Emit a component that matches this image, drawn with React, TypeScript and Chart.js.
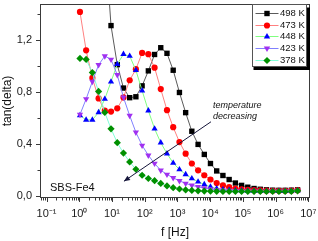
import React, { useEffect, useRef } from 'react';
import { Chart, registerables } from 'chart.js';

Chart.register(...registerables);

// Frequencies [Hz]
const frequencies = [
  1.05, 1.62, 2.51, 3.89, 6.03, 9.33, 14.5, 22.4, 34.7, 53.7, 83.2, 129,
  200, 309, 479, 741, 1150, 1780, 2750, 4270, 6610, 10200, 15800, 24500,
  38000, 58900, 91200, 141000, 219000, 339000, 525000, 813000, 1260000,
  1950000, 3020000, 4680000,
];

// tan(delta) per temperature
const tan498 = [
  4.6, 3.8, 3.1, 2.5, 2.0, 1.31, 1.01, 0.83, 0.756, 0.763, 0.847, 0.962,
  1.088, 1.14, 1.097, 0.967, 0.796, 0.641, 0.498, 0.397, 0.32, 0.25, 0.193,
  0.158, 0.127, 0.1, 0.082, 0.068, 0.058, 0.052, 0.048, 0.045, 0.044, 0.044,
  0.045, 0.048,
];
const tan473 = [
  1.415, 1.12, 0.908, 0.75, 0.656, 0.649, 0.674, 0.758, 0.89, 0.975, 1.1,
  1.09, 0.987, 0.822, 0.66, 0.529, 0.415, 0.326, 0.25, 0.198, 0.16, 0.127,
  0.1, 0.082, 0.068, 0.058, 0.052, 0.048, 0.045, 0.043, 0.041, 0.04, 0.04,
  0.04, 0.041, 0.045,
];
const tan448 = [
  0.62, 0.585, 0.585, 0.643, 0.746, 0.878, 1.013, 1.09, 1.076, 0.967, 0.81,
  0.656, 0.517, 0.41, 0.326, 0.254, 0.204, 0.166, 0.135, 0.11, 0.089, 0.071,
  0.058, 0.05, 0.046, 0.043, 0.041, 0.04, 0.039, 0.038, 0.038, 0.038, 0.038,
  0.038, 0.039, 0.043,
];
const tan423 = [
  0.626, 0.746, 0.88, 1.008, 1.076, 1.05, 0.931, 0.758, 0.618, 0.49, 0.389,
  0.313, 0.25, 0.198, 0.166, 0.14, 0.117, 0.097, 0.082, 0.071, 0.061, 0.053,
  0.048, 0.044, 0.042, 0.04, 0.039, 0.038, 0.037, 0.037, 0.037, 0.037, 0.037,
  0.037, 0.038, 0.042,
];
const tan378 = [
  1.058, 1.05, 0.949, 0.804, 0.643, 0.517, 0.41, 0.33, 0.262, 0.206, 0.16,
  0.135, 0.118, 0.097, 0.078, 0.064, 0.054, 0.047, 0.043, 0.04, 0.038, 0.037,
  0.036, 0.035, 0.035, 0.035, 0.035, 0.035, 0.035, 0.035, 0.035, 0.035, 0.035,
  0.035, 0.036, 0.04,
];

const seriesLabels = ['498 K', '473 K', '448 K', '423 K', '378 K'];
const seriesValues = [tan498, tan473, tan448, tan423, tan378];

const xTickExponents = [-1, 0, 1, 2, 3, 4, 5, 6, 7];
const yTickValues = [0, 0.4, 0.8, 1.2];
const yMinorTickValues = [0.2, 0.6, 1.0, 1.4];

const lineColors = ['#5a5a5a', '#ff8080', '#80ff80', '#8080ff', '#80ffd8'];
const markerColors = ['#000000', '#ff0000', '#0000ff', '#a030f0', '#009000'];
const markerShapes = ['rect', 'circle', 'triangle', 'triangleDown', 'rectRot'];

const FONT = "'Liberation Sans', Arial, Helvetica, sans-serif";
const SUP: Record<string, string> = {
  '-': '\u207B', '0': '\u2070', '1': '\u00B9', '2': '\u00B2', '3': '\u00B3',
  '4': '\u2074', '5': '\u2075', '6': '\u2076', '7': '\u2077', '8': '\u2078', '9': '\u2079',
};
const toSup = (n: number) => String(n).split('').map((c) => SUP[c] || c).join('');

function chartStyle(shape: string) {
  switch (shape) {
    case 'rect': return { pointStyle: 'rect', pointRadius: 3.8, pointRotation: 0 };
    case 'circle': return { pointStyle: 'circle', pointRadius: 3.1, pointRotation: 0 };
    case 'triangle': return { pointStyle: 'triangle', pointRadius: 3.6, pointRotation: 0 };
    case 'triangleDown': return { pointStyle: 'triangle', pointRadius: 3.6, pointRotation: 180 };
    default: return { pointStyle: 'rectRot', pointRadius: 3.6, pointRotation: 0 };
  }
}

function drawMarker(ctx: CanvasRenderingContext2D, shape: string, x: number, y: number, color: string) {
  ctx.save();
  ctx.fillStyle = color;
  ctx.beginPath();
  if (shape === 'rect') {
    ctx.rect(x - 2.7, y - 2.7, 5.4, 5.4);
  } else if (shape === 'circle') {
    ctx.arc(x, y, 3.1, 0, Math.PI * 2);
  } else if (shape === 'triangle') {
    ctx.moveTo(x, y - 3.6);
    ctx.lineTo(x + 3.2, y + 2);
    ctx.lineTo(x - 3.2, y + 2);
    ctx.closePath();
  } else if (shape === 'triangleDown') {
    ctx.moveTo(x, y + 3.6);
    ctx.lineTo(x + 3.2, y - 2);
    ctx.lineTo(x - 3.2, y - 2);
    ctx.closePath();
  } else {
    ctx.moveTo(x, y - 3.6);
    ctx.lineTo(x + 3.6, y);
    ctx.lineTo(x, y + 3.6);
    ctx.lineTo(x - 3.6, y);
    ctx.closePath();
  }
  ctx.fill();
  ctx.restore();
}

const extrasPlugin = {
  id: 'originExtras',
  afterDraw(chart: any) {
    const ctx: CanvasRenderingContext2D = chart.ctx;
    const { left, right, top, bottom } = chart.chartArea;
    const xs = chart.scales.x;
    const ys = chart.scales.y;
    ctx.save();

    // frame
    ctx.strokeStyle = '#3a3a3a';
    ctx.lineWidth = 1;
    ctx.strokeRect(left + 0.5, top + 0.5, right - left - 1, bottom - top - 1);

    // x ticks
    ctx.beginPath();
    for (let e = -2; e <= 7; e++) {
      for (let m = 1; m <= 9; m++) {
        const v = m * Math.pow(10, e);
        if (v < xs.min || v > xs.max) continue;
        const px = Math.round(xs.getPixelForValue(v)) + 0.5;
        const len = m === 1 ? 4 : 2.5;
        ctx.moveTo(px, bottom);
        ctx.lineTo(px, bottom + len);
      }
    }
    // y ticks
    for (const v of yTickValues) {
      const py = Math.round(ys.getPixelForValue(v)) + 0.5;
      ctx.moveTo(left - 4, py);
      ctx.lineTo(left, py);
    }
    for (const v of yMinorTickValues) {
      const py = Math.round(ys.getPixelForValue(v)) + 0.5;
      ctx.moveTo(left - 2.5, py);
      ctx.lineTo(left, py);
    }
    ctx.stroke();

    // legend box
    const lx = 252.5, ly = 4.5, lw = 54, lh = 62;
    ctx.fillStyle = '#000';
    ctx.fillRect(lx + 1, ly + 3, lw + 2.5, lh + 0.5);
    ctx.fillStyle = '#fff';
    ctx.fillRect(lx, ly, lw, lh);
    ctx.strokeStyle = '#555';
    ctx.strokeRect(lx, ly, lw, lh);
    ctx.font = `9.5px ${FONT}`;
    ctx.textBaseline = 'middle';
    ctx.textAlign = 'left';
    seriesLabels.forEach((lab, i) => {
      const ry = ly + 8.3 + i * 11.7;
      ctx.strokeStyle = lineColors[i];
      ctx.lineWidth = 1;
      ctx.beginPath();
      ctx.moveTo(lx + 3, Math.round(ry) + 0.5);
      ctx.lineTo(lx + 26, Math.round(ry) + 0.5);
      ctx.stroke();
      drawMarker(ctx, markerShapes[i], lx + 14.5, Math.round(ry) + 0.5, markerColors[i]);
      ctx.fillStyle = '#111';
      ctx.fillText(lab, lx + 27.5, ry + 0.5);
    });

    // annotation: temperature decreasing
    ctx.fillStyle = '#111';
    ctx.font = `italic 9px ${FONT}`;
    ctx.textAlign = 'left';
    ctx.textBaseline = 'middle';
    const tx = xs.getPixelForValue(12200);
    ctx.fillText('temperature', tx, ys.getPixelForValue(0.6925));
    ctx.fillText('decreasing', tx, ys.getPixelForValue(0.609));

    const ax0 = xs.getPixelForValue(10600), ay0 = ys.getPixelForValue(0.571);
    const ax1 = xs.getPixelForValue(23.2), ay1 = ys.getPixelForValue(0.114);
    ctx.strokeStyle = '#15153a';
    ctx.fillStyle = '#15153a';
    ctx.lineWidth = 1;
    ctx.beginPath();
    ctx.moveTo(ax0, ay0);
    ctx.lineTo(ax1, ay1);
    ctx.stroke();
    const ang = Math.atan2(ay1 - ay0, ax1 - ax0);
    const hl = 6, hw = 2.6;
    ctx.beginPath();
    ctx.moveTo(ax1, ay1);
    ctx.lineTo(ax1 - hl * Math.cos(ang) + hw * Math.sin(ang), ay1 - hl * Math.sin(ang) - hw * Math.cos(ang));
    ctx.lineTo(ax1 - hl * Math.cos(ang) - hw * Math.sin(ang), ay1 - hl * Math.sin(ang) + hw * Math.cos(ang));
    ctx.closePath();
    ctx.fill();

    // sample label
    ctx.fillStyle = '#111';
    ctx.font = `11px ${FONT}`;
    ctx.textAlign = 'left';
    ctx.textBaseline = 'middle';
    ctx.fillText('SBS-Fe4', left + 10, bottom - 10);

    ctx.restore();
  },
};

export default function App() {
  const ref = useRef<HTMLCanvasElement>(null);

  useEffect(() => {
    const canvas = ref.current;
    if (!canvas) return;
    const n = seriesValues.length;
    const chart = new Chart(canvas, {
      type: 'line',
      data: {
        datasets: seriesValues.map((vals, i) => ({
          label: seriesLabels[i],
          data: frequencies.map((f, k) => ({ x: f, y: vals[k] })),
          borderColor: lineColors[i],
          backgroundColor: markerColors[i],
          pointBackgroundColor: markerColors[i],
          pointBorderColor: markerColors[i],
          pointBorderWidth: 0,
          borderWidth: 1,
          tension: 0,
          order: n - i,
          ...chartStyle(markerShapes[i]),
        })) as any,
      },
      options: {
        animation: false,
        responsive: false,
        devicePixelRatio: 1,
        layout: { padding: { top: 2, right: 8, left: 0, bottom: 0 } },
        plugins: { legend: { display: false }, tooltip: { enabled: false } },
        scales: {
          x: {
            type: 'logarithmic',
            position: 'bottom',
            min: Math.pow(10, -1.2),
            max: Math.pow(10, 7.05),
            grid: { display: false, drawTicks: false },
            border: { display: false },
            afterBuildTicks: (s: any) => {
              s.ticks = xTickExponents.map((e) => ({ value: Math.pow(10, e) }));
            },
            afterFit: (s: any) => {
              s.height = 43;
              s.paddingLeft = 0;
              s.paddingRight = 0;
              s.paddingTop = 0;
              s.paddingBottom = 0;
            },
            ticks: {
              autoSkip: false,
              maxRotation: 0,
              minRotation: 0,
              padding: 9,
              color: '#1a1a1a',
              font: { family: FONT, size: 11 },
              callback: (v: any) => '10' + toSup(Math.round(Math.log10(Number(v)))),
            },
            title: {
              display: true,
              text: 'f [Hz]',
              color: '#111',
              font: { family: FONT, size: 12 },
              padding: { top: 0, bottom: 1 },
            },
          },
          y: {
            type: 'linear',
            min: -0.015,
            max: 1.476,
            grid: { display: false, drawTicks: false },
            border: { display: false },
            afterBuildTicks: (s: any) => {
              s.ticks = yTickValues.map((v) => ({ value: v }));
            },
            afterFit: (s: any) => {
              s.width = 40;
              s.paddingLeft = 0;
              s.paddingRight = 0;
              s.paddingTop = 0;
              s.paddingBottom = 0;
            },
            ticks: {
              padding: 8,
              color: '#1a1a1a',
              font: { family: FONT, size: 11 },
              callback: (v: any) => Number(v).toFixed(1).replace('.', ','),
            },
            title: {
              display: true,
              text: 'tan(delta)',
              color: '#111',
              font: { family: FONT, size: 12 },
              padding: { top: 0, bottom: 0 },
            },
          },
        },
      },
      plugins: [extrasPlugin],
    });
    return () => chart.destroy();
  }, []);

  return (
    <div style={{ position: 'absolute', left: 0, top: 0, width: 318, height: 241, background: '#fff' }}>
      <canvas ref={ref} width={318} height={241} style={{ display: 'block', width: 318, height: 241 }} />
    </div>
  );
}
